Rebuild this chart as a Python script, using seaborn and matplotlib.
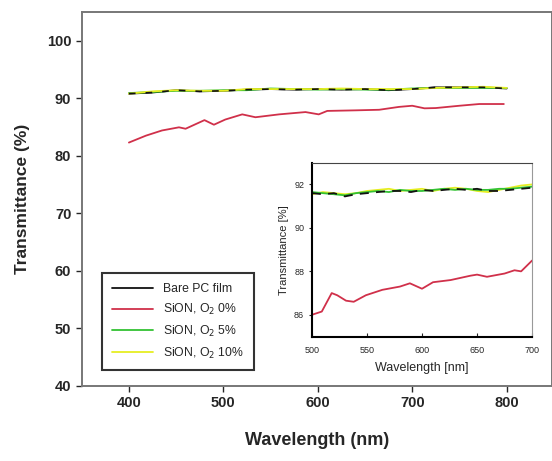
import matplotlib
matplotlib.use("Agg")
import matplotlib.pyplot as plt
import pandas as pd
import seaborn as sns

# main panel data
WL_MAIN = [400, 425, 450, 475, 500, 525, 550, 575, 600, 625, 650, 675, 700, 725, 750, 775, 800]
BARE_MAIN = [90.8, 91.0, 91.4, 91.2, 91.3, 91.5, 91.6, 91.5, 91.6, 91.5, 91.6, 91.4, 91.6, 91.9, 91.9, 91.9, 91.7]
O5_MAIN = [90.9, 91.1, 91.3, 91.3, 91.4, 91.4, 91.7, 91.6, 91.5, 91.6, 91.5, 91.5, 91.7, 91.8, 91.8, 91.8, 91.8]
O10_MAIN = [90.8, 91.2, 91.4, 91.3, 91.3, 91.6, 91.6, 91.6, 91.6, 91.7, 91.6, 91.6, 91.6, 91.8, 91.9, 92.0, 91.8]

WL_RED_MAIN = [400, 418, 435, 453, 460, 480, 490, 502, 520, 534, 559, 587, 601, 610,
               640, 665, 686, 700, 713, 725, 750, 771, 797]
O0_MAIN = [82.3, 83.5, 84.4, 84.95, 84.7, 86.2, 85.4, 86.3, 87.2, 86.7, 87.2, 87.6, 87.2, 87.8,
           87.9, 88.0, 88.5, 88.7, 88.25, 88.3, 88.7, 89.0, 89.0]

# inset data (500-700 nm)
WL_INSET = [500, 510, 520, 530, 540, 550, 560, 570, 580, 590, 600,
            610, 620, 630, 640, 650, 660, 670, 680, 690, 700]
BARE_INSET = [91.6, 91.55, 91.6, 91.45, 91.55, 91.6, 91.65, 91.7, 91.7, 91.65, 91.75,
              91.7, 91.75, 91.8, 91.75, 91.8, 91.7, 91.7, 91.75, 91.8, 91.85]
O5_INSET = [91.65, 91.6, 91.55, 91.5, 91.6, 91.65, 91.7, 91.65, 91.75, 91.7, 91.7,
            91.75, 91.8, 91.75, 91.8, 91.75, 91.75, 91.8, 91.8, 91.85, 91.9]
O10_INSET = [91.55, 91.65, 91.6, 91.55, 91.6, 91.7, 91.75, 91.8, 91.7, 91.75, 91.8,
             91.7, 91.8, 91.85, 91.8, 91.7, 91.65, 91.75, 91.85, 91.95, 92.0]
WL_RED_INSET = [500, 509, 518, 523, 531, 538, 549, 564, 580, 589, 600,
                610, 626, 644, 650, 659, 675, 684, 690, 700]
O0_INSET = [86.0, 86.15, 87.0, 86.9, 86.65, 86.6, 86.9, 87.15, 87.3, 87.45, 87.2,
            87.5, 87.6, 87.8, 87.85, 87.75, 87.9, 88.05, 88.0, 88.5]

LABELS = ["Bare PC film", "SiON, O$_2$ 0%", "SiON, O$_2$ 5%", "SiON, O$_2$ 10%"]
COLORS = ["#111111", "#d0304a", "#33c233", "#e6ee22"]


def frame(wl, values, label):
    return pd.DataFrame({"wl": wl, "T": values, "sample": label})


sns.set_style("ticks")
plt.rcParams["font.family"] = ["Liberation Sans", "DejaVu Sans"]

fig = plt.figure(figsize=(5.52, 4.61), dpi=100)
ax = fig.add_axes([0.148, 0.163, 0.852, 0.811])

main_sets = [
    (WL_MAIN, BARE_MAIN), (WL_RED_MAIN, O0_MAIN), (WL_MAIN, O5_MAIN), (WL_MAIN, O10_MAIN),
]
for (wl, vals), label, color in zip(main_sets, LABELS, COLORS):
    sns.lineplot(data=frame(wl, vals, label), x="wl", y="T", color=color,
                 linewidth=1.3, label=label, ax=ax)
# redraw black on top to mimic overlap
sns.lineplot(data=frame(WL_MAIN, BARE_MAIN, "_b"), x="wl", y="T", color=COLORS[0],
             linewidth=1.2, linestyle=(0, (4, 6)), ax=ax, legend=False)

ax.set_xlim(350, 848)
ax.set_ylim(40, 105)
ax.set_xticks([400, 500, 600, 700, 800])
ax.set_yticks([40, 50, 60, 70, 80, 90, 100])
ax.tick_params(direction="out", length=4, width=1, labelsize=10.5)
for lab in ax.get_xticklabels() + ax.get_yticklabels():
    lab.set_fontweight("bold")
for side in ax.spines.values():
    side.set_color("#777777")
    side.set_linewidth(1.4)
ax.set_xlabel("Wavelength (nm)", fontsize=13, fontweight="bold", labelpad=16)
ax.set_ylabel("Transmittance (%)", fontsize=12.5, fontweight="bold", labelpad=12)

leg = ax.legend(loc="lower left", bbox_to_anchor=(0.03, 0.025), fontsize=8.8,
                frameon=True, fancybox=False, handlelength=3.4, borderpad=0.8,
                labelspacing=0.55, handletextpad=0.8)
leg.get_frame().set_edgecolor("black")
leg.get_frame().set_linewidth(1.5)

# inset
ins = fig.add_axes([0.565, 0.27, 0.399, 0.377])
inset_sets = [
    (WL_INSET, O10_INSET, 3), (WL_INSET, O5_INSET, 2), (WL_RED_INSET, O0_INSET, 1),
    (WL_INSET, BARE_INSET, 0),
]
for wl, vals, idx in inset_sets:
    style = (0, (5, 4)) if idx == 0 else "-"
    sns.lineplot(data=frame(wl, vals, LABELS[idx]), x="wl", y="T", color=COLORS[idx],
                 linewidth=1.3, linestyle=style, ax=ins, legend=False)
ins.set_xlim(500, 700)
ins.set_ylim(85, 93)
ins.set_xticks([500, 550, 600, 650, 700])
ins.set_yticks([86, 88, 90, 92])
ins.tick_params(axis="x", direction="in", length=3, labelsize=6.5, pad=7)
ins.tick_params(axis="y", direction="out", length=2, labelsize=6.5)
ins.spines["left"].set_linewidth(1.5)
ins.spines["bottom"].set_linewidth(1.5)
ins.spines["left"].set_color("black")
ins.spines["bottom"].set_color("black")
ins.spines["top"].set_color("#444444")
ins.spines["right"].set_color("#999999")
ins.set_xlabel("Wavelength [nm]", fontsize=9, labelpad=5)
ins.set_ylabel("Transmittance [%]", fontsize=8, labelpad=4)

fig.savefig("out.png", dpi=100)
